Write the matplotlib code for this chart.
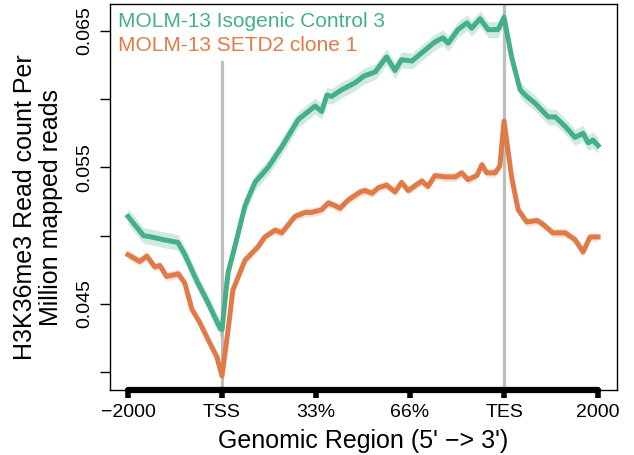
import matplotlib
matplotlib.use("Agg")
import matplotlib.pyplot as plt
import numpy as np

# bin positions: 0 = -2000, 20 = TSS, 80 = TES, 100 = +2000
ctrl_x = [0, 3.3, 5, 7.5, 10.6, 12.1, 14.6, 16.7, 19.6, 20,
          20.8, 21.3, 22.8, 24.9, 27, 29.8, 32.7, 36.2, 39.8, 41.2,
          42.3, 43.3, 45.5, 48.3, 50.2, 52.6, 55, 56.8, 58.2, 60.4,
          62.5, 65.3, 67, 68.1, 70.2, 72.1, 73.1, 74.9, 76.6, 78.7,
          80, 81.6, 83.4, 84.5, 86.6, 89.4, 90.9, 93, 95.1, 96.8,
          97.9, 98.9, 100]
ctrl_y = [0.0514, 0.0500, 0.0499, 0.0497, 0.0495, 0.0486, 0.0467, 0.0453, 0.0432, 0.0431,
          0.0458, 0.0473, 0.0493, 0.0522, 0.0539, 0.0550, 0.0565, 0.0585, 0.0595, 0.0591,
          0.0603, 0.0602, 0.0607, 0.0612, 0.0617, 0.0620, 0.0631, 0.0621, 0.0629, 0.0628,
          0.0634, 0.0642, 0.0645, 0.0641, 0.0651, 0.0656, 0.0652, 0.0659, 0.0651, 0.0651,
          0.0660, 0.0631, 0.0607, 0.0603, 0.0597, 0.0587, 0.0587, 0.0580, 0.0572, 0.0575,
          0.0568, 0.0570, 0.0566]
ctrl_se = 0.00058

setd2_x = [0, 2.5, 4, 5.7, 6.8, 8.2, 10.7, 12.1, 13.6, 15.3,
           17, 18.9, 20, 21.3, 22.3, 24.9, 27.7, 29.1, 31.3, 32.7,
           35.5, 37.7, 39.1, 41.2, 42.6, 44, 45.1, 46.8, 49.4, 50.4,
           51.9, 53.2, 55, 56.8, 58.2, 59.6, 62.5, 63.8, 65.3, 67.4,
           69.6, 71, 72.3, 74.2, 75.3, 76.3, 78.1, 79.1, 80, 81.6,
           83, 84.8, 87, 88, 90.4, 93, 95.1, 96.8, 98.3, 100]
setd2_y = [0.0486, 0.0481, 0.0485, 0.0477, 0.0478, 0.0470, 0.0472, 0.0465, 0.0446, 0.0436,
           0.0424, 0.0411, 0.0397, 0.0431, 0.0460, 0.0482, 0.0492, 0.0499, 0.0504, 0.0502,
           0.0514, 0.0517, 0.0517, 0.0519, 0.0524, 0.0522, 0.0520, 0.0526, 0.0532, 0.0533,
           0.0531, 0.0535, 0.0537, 0.0532, 0.0539, 0.0533, 0.0540, 0.0536, 0.0544, 0.0543,
           0.0543, 0.0546, 0.0541, 0.0544, 0.0552, 0.0546, 0.0546, 0.0551, 0.0584, 0.0543,
           0.0519, 0.0510, 0.0511, 0.0509, 0.0502, 0.0502, 0.0497, 0.0488, 0.0499, 0.0499]
setd2_se = 0.00032

tick_pos = [0, 20, 40, 60, 80, 100]
tick_labels = ["\u22122000", "TSS", "33%", "66%", "TES", "2000"]
y_ticks = [0.040, 0.045, 0.050, 0.055, 0.060, 0.065]
y_labels = ["", "0.045", "", "0.055", "", "0.065"]

ctrl_name = "MOLM-13 Isogenic Control 3"
setd2_name = "MOLM-13 SETD2 clone 1"
green = "#45AF8A"
orange = "#E07B47"

plt.rcParams["font.family"] = ["Liberation Sans", "DejaVu Sans"]


def main():
    fig = plt.figure(figsize=(6.34, 4.55), dpi=100)
    ax = fig.add_axes([0.1735, 0.1429, 0.7995, 0.8483])

    # TSS / TES markers (TSS one stops under the legend text)
    ax.axvline(20, ymax=0.85, color="#BEBEBE", lw=2.3, zorder=1)
    ax.axvline(80, color="#BEBEBE", lw=2.3, zorder=1)

    ax.fill_between(ctrl_x, np.array(ctrl_y) - ctrl_se, np.array(ctrl_y) + ctrl_se,
                    color=green, alpha=0.25, lw=0, zorder=2)
    ax.plot(ctrl_x, ctrl_y, color=green, lw=3.6, solid_joinstyle="round", zorder=3,
            label=ctrl_name)
    ax.fill_between(setd2_x, np.array(setd2_y) - setd2_se, np.array(setd2_y) + setd2_se,
                    color=orange, alpha=0.22, lw=0, zorder=2)
    ax.plot(setd2_x, setd2_y, color=orange, lw=3.6, solid_joinstyle="round", zorder=3,
            label=setd2_name)

    ax.set_xlim(-3.83, 104.0)
    ax.set_ylim(0.03868, 0.06698)

    for sp in ax.spines.values():
        sp.set_linewidth(1.0)
    # thick bottom axis line between -2000 and 2000
    ax.plot([0, 100], [0, 0], transform=ax.get_xaxis_transform(), color="black",
            lw=4.5, solid_capstyle="round", clip_on=False, zorder=5)

    ax.set_xticks(tick_pos)
    ax.set_xticklabels(tick_labels, fontsize=14)
    ax.tick_params(axis="x", width=4, length=6, pad=4)
    ax.set_yticks(y_ticks)
    ax.set_yticklabels(y_labels, fontsize=14, rotation=90, va="center")
    ax.tick_params(axis="y", width=1, length=7, pad=5)

    ax.set_xlabel("Genomic Region (5' \u2212> 3')", fontsize=18, labelpad=6)
    ax.set_ylabel("H3K36me3 Read count Per\nMillion mapped reads", fontsize=18,
                  linespacing=1.1)
    ax.yaxis.set_label_coords(-0.093, 0.474)

    leg = ax.legend(loc="upper left", frameon=False, fontsize=15, handlelength=0,
                    handletextpad=0, borderaxespad=0.1, borderpad=0.3,
                    labelspacing=0.2, labelcolor=[green, orange])
    for h in leg.legend_handles:
        h.set_visible(False)
    leg.set_zorder(4)

    plt.savefig("out.png", dpi=100)
    plt.close("all")


if __name__ == "__main__":
    main()
